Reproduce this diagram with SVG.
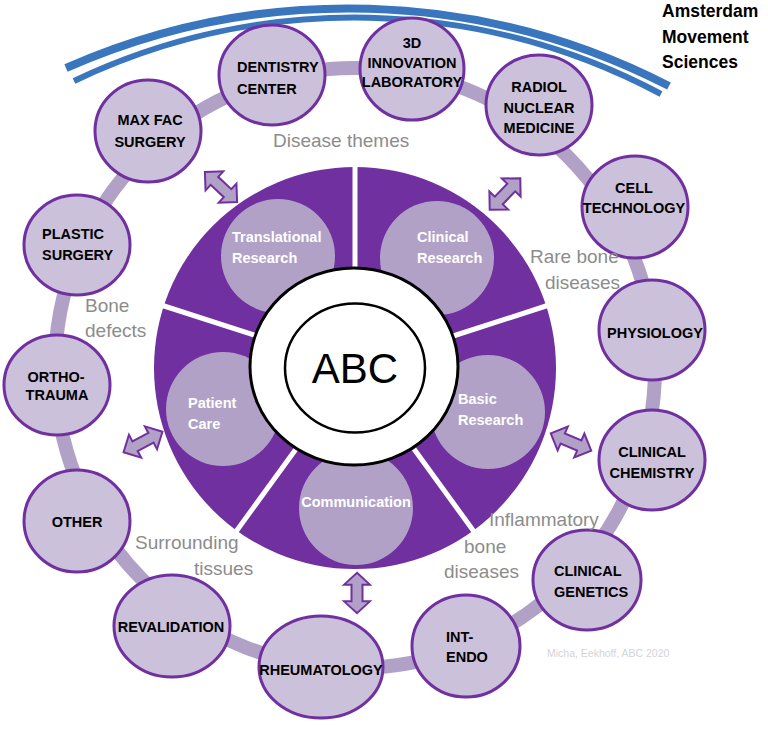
<svg xmlns="http://www.w3.org/2000/svg" xmlns:xlink="http://www.w3.org/1999/xlink" width="768" height="736" viewBox="0 0 768 736">
<style>
.node{fill:#ccc1da;stroke:#7030a0;stroke-width:3}
.nt{font-family:"Liberation Sans",Arial,sans-serif;font-weight:bold;font-size:14.5px;fill:#000}
.mid{text-anchor:middle}
.wt{font-family:"Liberation Sans",Arial,sans-serif;font-weight:bold;font-size:14.5px;fill:#fff}
.gl{font-family:"Liberation Sans",Arial,sans-serif;font-size:19px;fill:#8c8c8c}
.inner{fill:#b2a1c7}
.sep{stroke:#fff;stroke-width:5}
.arr{fill:#b2a1c7;stroke:#7030a0;stroke-width:2;stroke-linejoin:miter}
.blue{fill:none;stroke:#3a76bd;stroke-linecap:butt}
</style>
<defs>
<polygon id="dbl" points="-22,0 -9,-13 -9,-5.5 9,-5.5 9,-13 22,0 9,13 9,5.5 -9,5.5 -9,13"/>
</defs>
<rect width="768" height="736" fill="#fff"/>

<g id="amsterdam">
<path class="blue" d="M 66 68 A 700 700 0 0 1 669 86" stroke-width="8"/>
<path class="blue" d="M 74 81 A 652 652 0 0 1 661 94" stroke-width="6"/>
<text font-family="Liberation Sans,Arial,sans-serif" font-weight="bold" font-size="17.5" fill="#000"><tspan x="662" y="17">Amsterdam</tspan><tspan x="662" y="43">Movement</tspan><tspan x="662" y="68">Sciences</tspan></text>
</g>

<g id="connectors">
<circle cx="355" cy="368" r="300" fill="none" stroke="#b2a1c7" stroke-width="14"/>
<use xlink:href="#dbl" class="arr" transform="translate(221,187) rotate(43)"/>
<use xlink:href="#dbl" class="arr" transform="translate(505,194) rotate(-46)"/>
<use xlink:href="#dbl" class="arr" transform="translate(143,442) rotate(-28)"/>
<use xlink:href="#dbl" class="arr" transform="translate(571,442) rotate(23)"/>
<use xlink:href="#dbl" class="arr" transform="translate(357,593) rotate(90) scale(0.92,1)"/>
</g>

<g id="wheel">
<circle cx="355" cy="368" r="201" fill="#7030a0"/>
<circle class="inner" cx="278" cy="256" r="57"/>
<circle class="inner" cx="437" cy="258" r="57"/>
<circle class="inner" cx="488" cy="412" r="57"/>
<circle class="inner" cx="356" cy="508" r="57"/>
<circle class="inner" cx="223" cy="409" r="57"/>
<line class="sep" x1="355" y1="268" x2="355" y2="164"/>
<line class="sep" x1="450" y1="337" x2="549" y2="305"/>
<line class="sep" x1="414" y1="449" x2="475" y2="533"/>
<line class="sep" x1="296" y1="449" x2="235" y2="533"/>
<line class="sep" x1="260" y1="337" x2="161" y2="305"/>
<ellipse cx="354" cy="366.5" rx="104" ry="98.5" fill="#fff" stroke="#000" stroke-width="3"/>
<ellipse cx="355" cy="368" rx="70" ry="64.5" fill="#fff" stroke="#000" stroke-width="2.5"/>
<text x="355" y="383" text-anchor="middle" font-family="Liberation Sans,Arial,sans-serif" font-size="42" fill="#000">ABC</text>
</g>

<g id="translational"><text class="wt"><tspan x="232" y="242">Translational</tspan><tspan x="232" y="263">Research</tspan></text></g>
<g id="clinical-research"><text class="wt"><tspan x="417" y="242">Clinical</tspan><tspan x="417" y="263">Research</tspan></text></g>
<g id="basic-research"><text class="wt"><tspan x="458" y="404">Basic</tspan><tspan x="458" y="425">Research</tspan></text></g>
<g id="communication"><text class="wt" x="356" y="507" text-anchor="middle">Communication</text></g>
<g id="patient-care"><text class="wt"><tspan x="188" y="408">Patient</tspan><tspan x="188" y="429">Care</tspan></text></g>

<g id="maxfac"><ellipse class="node" cx="148" cy="131" rx="53" ry="51"/><text class="nt mid"><tspan x="150" y="125">MAX FAC</tspan><tspan x="150" y="147">SURGERY</tspan></text></g>
<g id="dentistry"><ellipse class="node" cx="272" cy="75" rx="53" ry="50"/><text class="nt"><tspan x="237" y="72">DENTISTRY</tspan><tspan x="237" y="94">CENTER</tspan></text></g>
<g id="innovation"><ellipse class="node" cx="412" cy="69" rx="52" ry="51"/><text class="nt mid"><tspan x="412" y="48">3D</tspan><tspan x="412" y="68">INNOVATION</tspan><tspan x="412" y="87">LABORATORY</tspan></text></g>
<g id="radiol"><ellipse class="node" cx="539" cy="105" rx="53" ry="50"/><text class="nt mid"><tspan x="539" y="92">RADIOL</tspan><tspan x="539" y="113">NUCLEAR</tspan><tspan x="539" y="133">MEDICINE</tspan></text></g>
<g id="cell"><ellipse class="node" cx="635" cy="207" rx="53" ry="51"/><text class="nt mid"><tspan x="634" y="193">CELL</tspan><tspan x="634" y="213">TECHNOLOGY</tspan></text></g>
<g id="physiology"><ellipse class="node" cx="652" cy="330" rx="53" ry="50"/><text class="nt mid" x="655" y="338">PHYSIOLOGY</text></g>
<g id="clinchem"><ellipse class="node" cx="652" cy="460" rx="53" ry="50"/><text class="nt mid"><tspan x="652" y="457">CLINICAL</tspan><tspan x="652" y="478">CHEMISTRY</tspan></text></g>
<g id="clingen"><ellipse class="node" cx="587" cy="580" rx="54" ry="50"/><text class="nt"><tspan x="554" y="576">CLINICAL</tspan><tspan x="554" y="597">GENETICS</tspan></text></g>
<g id="intendo"><ellipse class="node" cx="466" cy="646" rx="54" ry="51"/><text class="nt"><tspan x="446" y="642">INT-</tspan><tspan x="446" y="662">ENDO</tspan></text></g>
<g id="rheumatology"><ellipse class="node" cx="321" cy="667" rx="62" ry="51"/><text class="nt mid" x="321" y="675">RHEUMATOLOGY</text></g>
<g id="revalidation"><ellipse class="node" cx="172" cy="626" rx="58" ry="51"/><text class="nt mid" x="171" y="632">REVALIDATION</text></g>
<g id="other"><ellipse class="node" cx="77" cy="521" rx="53" ry="51"/><text class="nt mid" x="77" y="527">OTHER</text></g>
<g id="ortho"><ellipse class="node" cx="57" cy="385" rx="53" ry="50"/><text class="nt mid"><tspan x="56" y="382">ORTHO-</tspan><tspan x="57" y="400">TRAUMA</tspan></text></g>
<g id="plastic"><ellipse class="node" cx="77" cy="245" rx="53" ry="50"/><text class="nt"><tspan x="42" y="239">PLASTIC</tspan><tspan x="42" y="260">SURGERY</tspan></text></g>

<g id="labels">
<text class="gl" x="273" y="147">Disease themes</text>
<text class="gl"><tspan x="530" y="263">Rare bone</tspan><tspan x="545" y="289">diseases</tspan></text>
<text class="gl"><tspan x="85" y="312">Bone</tspan><tspan x="85" y="337">defects</tspan></text>
<text class="gl"><tspan x="135" y="549">Surrounding</tspan><tspan x="194" y="575">tissues</tspan></text>
<text class="gl"><tspan x="489" y="526">Inflammatory</tspan><tspan x="464" y="553">bone</tspan><tspan x="444" y="578">diseases</tspan></text>
<text x="547" y="657" font-family="Liberation Sans,Arial,sans-serif" font-size="10.5" fill="#d4d4d4">Micha, Eekhoff, ABC 2020</text>
</g>
</svg>
